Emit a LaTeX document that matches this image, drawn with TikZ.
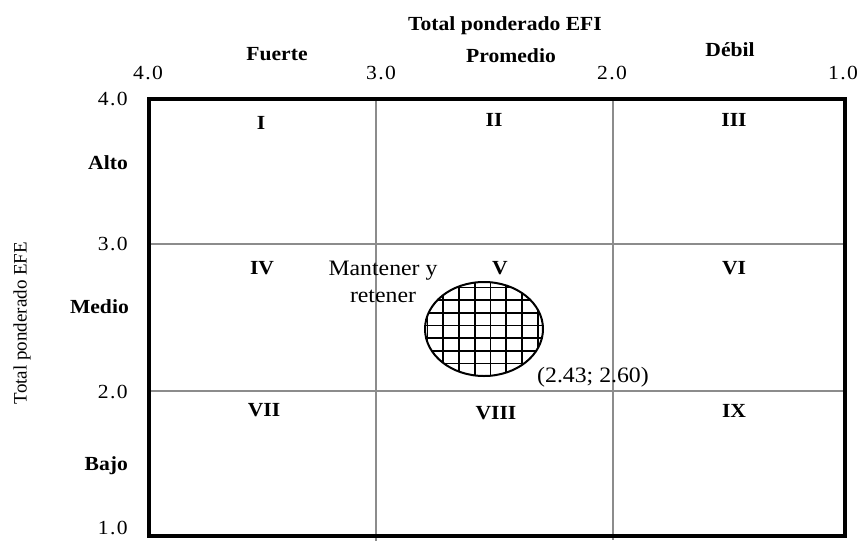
\documentclass[tikz,border=0pt]{standalone}
\usepackage{fontspec}
\setmainfont{Liberation Serif}
\newfontfamily\widefont[FakeStretch=1.08]{Liberation Serif}
\newfontfamily\semifont[FakeStretch=1.08]{Liberation Serif}
\newcommand{\dotnum}[2]{#1\kern1.5pt.\kern1.5pt#2}
\begin{document}
\begin{tikzpicture}[x=1pt,y=-1pt,
  lbl/.style={font=\widefont\bfseries\fontsize{20}{22}\selectfont, inner sep=0},
  num/.style={font=\widefont\fontsize{20}{22}\selectfont, inner sep=0},
  rom/.style={font=\widefont\bfseries\fontsize{20}{22}\selectfont, inner sep=0},
  note/.style={font=\semifont\fontsize{22}{27}\selectfont, inner sep=0, align=center},
  gridline/.style={draw=black!45, line width=1.4pt},
  frame/.style={draw=black, line width=3.5pt},
  hatch/.style={draw=black, line width=1.6pt}]
\useasboundingbox (0,0) rectangle (862,542);
% corners
\coordinate (tl) at (149,99);
\coordinate (br) at (845,536);
\coordinate (v1t) at (376,99);  \coordinate (v1b) at (376,541);
\coordinate (v2t) at (613,99);  \coordinate (v2b) at (613,540);
\coordinate (h1l) at (149,244); \coordinate (h1r) at (845,244);
\coordinate (h2l) at (149,391); \coordinate (h2r) at (845,391);
% inner grid
\draw[gridline] (v1t) -- (v1b);
\draw[gridline] (v2t) -- (v2b);
\draw[gridline] (h1l) -- (h1r);
\draw[gridline] (h2l) -- (h2r);
% frame
\draw[frame] (tl) rectangle (br);
% top axis
\node[lbl] (title) at (505,26) {Total ponderado EFI};
\node[lbl] (fuerte) at (277,54) {Fuerte};
\node[lbl] (promedio) at (511,56) {Promedio};
\node[lbl] (debil) at (730,50) {Débil};
\node[num] (t4) at (148,73) {\dotnum{4}{0}};
\node[num] (t3) at (381,73) {\dotnum{3}{0}};
\node[num] (t2) at (612,73) {\dotnum{2}{0}};
\node[num] (t1) at (843,73) {\dotnum{1}{0}};
% left axis
\node[num, anchor=east] (l4) at (128,99) {\dotnum{4}{0}};
\node[num, anchor=east] (l3) at (128,244) {\dotnum{3}{0}};
\node[num, anchor=east] (l2) at (128,392) {\dotnum{2}{0}};
\node[num, anchor=east] (l1) at (128,528) {\dotnum{1}{0}};
\node[lbl, anchor=east] (alto) at (128,163) {Alto};
\node[lbl, anchor=east] (medio) at (129,307) {Medio};
\node[lbl, anchor=east] (bajo) at (128,466) {Bajo};
\node[font=\fontsize{19}{21}\selectfont, inner sep=0, rotate=90] (efe) at (22,323) {Total ponderado EFE};
% quadrant numerals
\node[rom] (q1) at (261,123) {I};
\node[rom] (q2) at (494,120) {II};
\node[rom] (q3) at (734,120) {III};
\node[rom] (q4) at (262,268) {IV};
\node[rom] (q5) at (500,268) {V};
\node[rom] (q6) at (734,268) {VI};
\node[rom] (q7) at (264,410) {VII};
\node[rom] (q8) at (496,413) {VIII};
\node[rom] (q9) at (734,411) {IX};
% ellipse with grid
\coordinate (ec) at (484,329);
\begin{scope}
  \clip (ec) ellipse [x radius=59, y radius=47];
  \foreach \i in {0,...,7} {
    \draw[hatch] (427.5+15.75*\i,280) -- (427.5+15.75*\i,380);
  }
  \foreach \j in {0,...,6} {
    \draw[hatch] (420,287.3+12.7*\j) -- (550,287.3+12.7*\j);
  }
\end{scope}
\draw[draw=black, line width=2pt] (ec) ellipse [x radius=59, y radius=47];
% notes
\node[note] (mant) at (383,282) {Mantener y\\retener};
\node[note] (coord) at (593,377) {(2.43; 2.60)};
\end{tikzpicture}
\end{document}
